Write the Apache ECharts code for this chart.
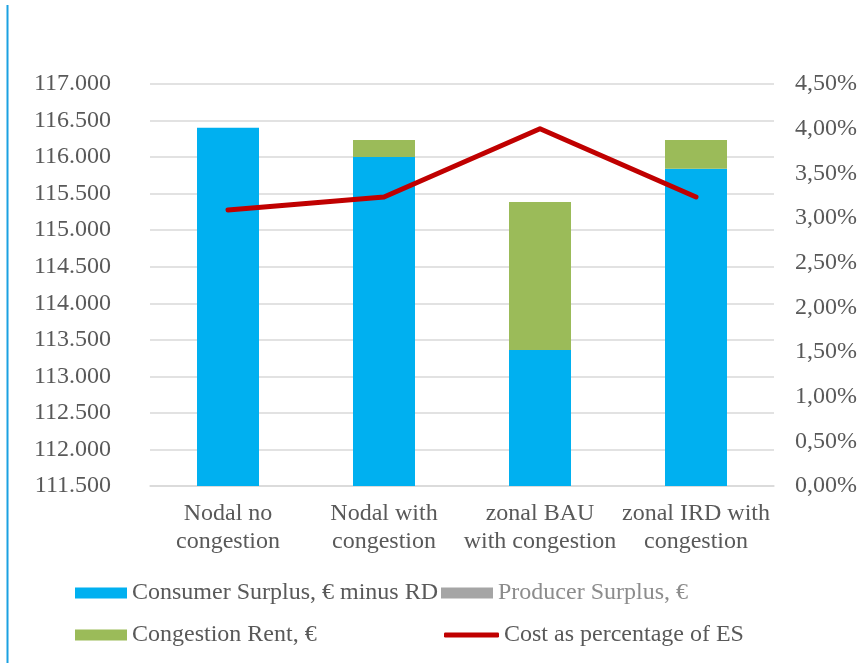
<!DOCTYPE html>
<html>
<head>
<meta charset="utf-8">
<script src="https://cdn.jsdelivr.net/npm/echarts@6/dist/echarts.min.js"></script>
<style>
  html, body { margin: 0; padding: 0; background: #fff; }
  #chart { width: 860px; height: 663px; }
</style>
</head>
<body>
<div id="chart"></div>
<script>
// categories (x axis)
const categories = ['Nodal no\ncongestion', 'Nodal with\ncongestion', 'zonal BAU\nwith congestion', 'zonal IRD with\ncongestion']

// stacked bars, left axis
const consumerSurplus = [116400, 116000, 113360, 115840]
const producerSurplus = [0, 0, 0, 0]
const congestionRent = [0, 235, 2025, 395]

// line, right axis (%)
const costPct = [3.09, 3.235, 4.0, 3.235]

const fontFamily = '"Liberation Serif", "Times New Roman", serif'
const textColor = '#595959'
const fontSize = 24

const chart = echarts.init(document.getElementById('chart'))

const fmtLeft = v => {
    const s = String(Math.round(v))
    return s.slice(0, s.length - 3) + '.' + s.slice(-3)
}
const fmtRight = v => v.toFixed(2).replace('.', ',') + '%'

const legendText = { fontFamily, fontSize, color: textColor }

const option = {
    animation: false,
    backgroundColor: '#fff',
    grid: { left: 150, right: 84, top: 84, bottom: 177 },
    xAxis: {
        type: 'category',
        data: categories,
        axisLine: { lineStyle: { color: '#d9d9d9', width: 1.5 } },
        axisTick: { show: false },
        axisLabel: {
            fontFamily,
            fontSize,
            color: textColor,
            lineHeight: 28,
            margin: 14,
            interval: 0
        }
    },
    yAxis: [
        {
            type: 'value',
            min: 111500,
            max: 117000,
            interval: 500,
            axisLine: { show: false },
            axisTick: { show: false },
            splitLine: { lineStyle: { color: '#d9d9d9', width: 1.5 } },
            axisLabel: { fontFamily, fontSize, color: textColor, margin: 39, formatter: fmtLeft }
        },
        {
            type: 'value',
            min: 0,
            max: 4.5,
            interval: 0.5,
            axisLine: { show: false },
            axisTick: { show: false },
            splitLine: { show: false },
            axisLabel: { fontFamily, fontSize, color: textColor, margin: 21, formatter: fmtRight }
        }
    ],
    legend: [
        {
            left: 75, top: 581, padding: 0, itemWidth: 52, itemHeight: 11, icon: 'rect',
            textStyle: legendText,
            data: ['Consumer Surplus, € minus RD']
        },
        {
            left: 441, top: 581, padding: 0, itemWidth: 52, itemHeight: 11, icon: 'rect',
            textStyle: { ...legendText, color: '#8c8c8c' },
            data: ['Producer Surplus, €']
        },
        {
            left: 75, top: 623, padding: 0, itemWidth: 52, itemHeight: 11, icon: 'rect',
            textStyle: legendText,
            data: ['Congestion Rent, €']
        },
        {
            left: 444, top: 623, padding: 0, itemWidth: 55, itemHeight: 5, icon: 'roundRect',
            textStyle: legendText,
            data: ['Cost as percentage of ES']
        }
    ],
    graphic: [
        {
            type: 'line',
            shape: { x1: 7.5, y1: 5, x2: 7.5, y2: 663 },
            style: { stroke: '#1ba1e2', lineWidth: 2 }
        }
    ],
    series: [
        {
            name: 'Consumer Surplus, € minus RD',
            type: 'bar',
            stack: 'total',
            barWidth: 62,
            data: consumerSurplus,
            itemStyle: { color: '#00b0f0' }
        },
        {
            name: 'Producer Surplus, €',
            type: 'bar',
            stack: 'total',
            barWidth: 62,
            data: producerSurplus,
            itemStyle: { color: '#a5a5a5' }
        },
        {
            name: 'Congestion Rent, €',
            type: 'bar',
            stack: 'total',
            barWidth: 62,
            data: congestionRent,
            itemStyle: { color: '#9bbb59' }
        },
        {
            name: 'Cost as percentage of ES',
            type: 'line',
            yAxisIndex: 1,
            data: costPct,
            showSymbol: false,
            symbol: 'none',
            itemStyle: { color: '#c00000' },
            lineStyle: { color: '#c00000', width: 5, cap: 'round', join: 'round' },
            z: 5
        }
    ]
}

chart.setOption(option)
</script>
</body>
</html>
